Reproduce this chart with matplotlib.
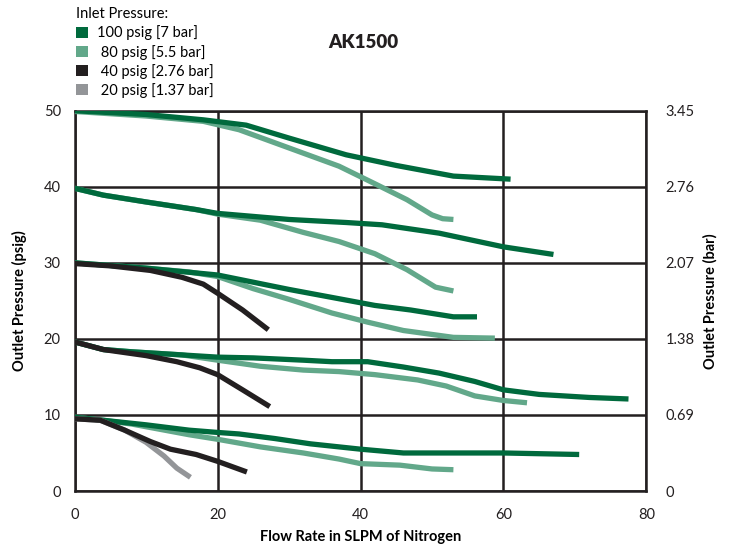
import matplotlib
matplotlib.use("Agg")
import matplotlib.pyplot as plt
from matplotlib.patches import Patch

plt.rcParams['font.family'] = ['Lato', 'DejaVu Sans']

# ---- data (outlet pressure psig vs flow SLPM) ----
# 100 psig inlet
p100_s50_x = [0, 10, 18, 24, 30, 38, 45, 53, 61]
p100_s50_y = [50, 49.5, 48.8, 48.1, 46.4, 44.2, 42.8, 41.4, 41.0]
p100_s40_x = [0, 4, 10, 17, 20, 30, 38, 43, 51, 60, 67]
p100_s40_y = [39.8, 38.9, 38.0, 37.0, 36.5, 35.7, 35.3, 35.0, 33.9, 32.1, 31.1]
p100_s30_x = [0, 10, 20, 30, 38, 42, 47, 53, 56.3]
p100_s30_y = [30, 29.3, 28.4, 26.5, 25.1, 24.4, 23.8, 22.9, 22.9]
p100_s20_x = [0, 4, 8, 20, 25, 32, 36, 41, 46, 51, 56, 60, 65, 72, 77.5]
p100_s20_y = [19.6, 18.6, 18.3, 17.6, 17.5, 17.2, 17.0, 17.0, 16.3, 15.5, 14.4, 13.3, 12.7, 12.3, 12.1]
p100_s10_x = [0, 4, 10, 16, 20, 23, 28, 33, 40, 46, 60, 70.6]
p100_s10_y = [9.7, 9.3, 8.7, 8.0, 7.7, 7.5, 6.9, 6.2, 5.5, 5.0, 5.0, 4.8]

# 80 psig inlet
p80_s50_x = [0, 10, 18, 23, 30, 37, 42, 46.5, 50, 51.5, 53]
p80_s50_y = [49.9, 49.3, 48.6, 47.5, 45.1, 42.7, 40.4, 38.3, 36.3, 35.8, 35.7]
p80_s40_x = [0, 4, 10, 17, 20, 26, 32, 37, 42, 46.5, 50.5, 53]
p80_s40_y = [39.8, 38.9, 38.0, 37.0, 36.4, 35.6, 34.0, 32.8, 31.2, 29.1, 26.8, 26.3]
p80_s30_x = [0, 10, 16, 20, 25, 30, 36, 41, 46, 53, 58.8]
p80_s30_y = [30, 29.3, 28.8, 28.2, 26.6, 25.2, 23.4, 22.2, 21.1, 20.2, 20.1]
p80_s20_x = [0, 4, 8, 15, 20, 26, 32, 37, 42, 48, 52, 56, 60, 63.3]
p80_s20_y = [19.6, 18.6, 18.3, 17.9, 17.2, 16.4, 15.9, 15.7, 15.3, 14.6, 13.8, 12.5, 11.9, 11.6]
p80_s10_x = [0, 4, 8, 12, 16, 20, 26, 32, 37, 40, 45.5, 50, 53]
p80_s10_y = [9.7, 9.3, 8.8, 8.1, 7.4, 6.8, 5.8, 5.0, 4.2, 3.6, 3.4, 2.9, 2.8]

# 40 psig inlet
p40_s30_x = [0, 5, 10.6, 15, 18, 20, 23.5, 27.1]
p40_s30_y = [29.9, 29.6, 29.0, 28.1, 27.2, 26.0, 23.8, 21.2]
p40_s20_x = [0, 4, 10, 14.3, 17.5, 20, 23.5, 27.3]
p40_s20_y = [19.6, 18.6, 17.8, 17.0, 16.2, 15.3, 13.3, 11.1]
p40_s10_x = [0, 3.6, 7, 10.6, 13.4, 17, 20, 24.1]
p40_s10_y = [9.5, 9.3, 8.0, 6.5, 5.5, 4.8, 3.9, 2.5]

# 20 psig inlet
p20_s10_x = [0, 3.6, 7, 10, 12.5, 14.3, 16.2]
p20_s10_y = [9.5, 9.3, 8.0, 6.4, 4.6, 3.0, 1.8]

legend_labels = ["100 psig [7 bar]", " 80 psig [5.5 bar]", " 40 psig [2.76 bar]", " 20 psig [1.37 bar]"]
psig_ticks = [0, 10, 20, 30, 40, 50]
bar_labels = ["0", "0.69", "1.38", "2.07", "2.76", "3.45"]
x_ticks = [0, 20, 40, 60, 80]

C100 = "#006a3d"
C80 = "#62a88a"
C40 = "#231f20"
C20 = "#939598"
LW = 3.8

fig = plt.figure(figsize=(7.32, 5.48), dpi=100)
ax = fig.add_axes([0.102, 0.104, 0.781, 0.694])

for x, y in [(p80_s50_x, p80_s50_y), (p80_s40_x, p80_s40_y), (p80_s30_x, p80_s30_y),
             (p80_s20_x, p80_s20_y), (p80_s10_x, p80_s10_y)]:
    ax.plot(x, y, color=C80, lw=LW, solid_capstyle='butt', zorder=3)
for x, y in [(p100_s50_x, p100_s50_y), (p100_s40_x, p100_s40_y), (p100_s30_x, p100_s30_y),
             (p100_s20_x, p100_s20_y), (p100_s10_x, p100_s10_y)]:
    ax.plot(x, y, color=C100, lw=LW, solid_capstyle='butt', zorder=4)
ax.plot(p20_s10_x, p20_s10_y, color=C20, lw=LW, solid_capstyle='butt', zorder=5)
for x, y in [(p40_s30_x, p40_s30_y), (p40_s20_x, p40_s20_y), (p40_s10_x, p40_s10_y)]:
    ax.plot(x, y, color=C40, lw=LW, solid_capstyle='butt', zorder=6)

ax.set_xlim(0, 80)
ax.set_ylim(0, 50)
ax.set_xticks(x_ticks)
ax.set_yticks(psig_ticks)
ax.grid(True, color=C40, lw=1.8, zorder=1)
for s in ax.spines.values():
    s.set_color(C40)
    s.set_linewidth(1.8)
ax.tick_params(length=0, labelsize=10.5, colors='#231f20')
ax.tick_params(axis='x', pad=12)
ax.tick_params(axis='y', pad=10)
ax.set_xlabel("Flow Rate in SLPM of Nitrogen", fontsize=10.5, fontweight='bold', labelpad=6)
ax.set_ylabel("Outlet Pressure (psig)", fontsize=10.5, fontweight='bold', labelpad=12)

ax2 = ax.twinx()
ax2.set_ylim(0, 50)
ax2.set_yticks(psig_ticks)
ax2.set_yticklabels(bar_labels)
ax2.tick_params(length=0, labelsize=10.5, pad=14, colors='#231f20')
for s in ax2.spines.values():
    s.set_visible(False)
ax2.set_ylabel("Outlet Pressure (bar)", fontsize=10.5, fontweight='bold', rotation=90, labelpad=6)

fig.text(0.497, 0.923, "AK1500", fontsize=13.5, fontweight='heavy', ha='center', va='center', color='#231f20')

handles = [Patch(facecolor=c, edgecolor='none') for c in [C100, C80, C40, C20]]
leg = fig.legend(handles, legend_labels, loc='upper left', bbox_to_anchor=(0.09, 1.005),
                 frameon=False, title="Inlet Pressure:", fontsize=10.5, title_fontsize=10.5,
                 handlelength=0.85, handleheight=0.85, handletextpad=0.6, labelspacing=0.28,
                 alignment='left', borderpad=0.2)

fig.savefig("out.png", dpi=100)
